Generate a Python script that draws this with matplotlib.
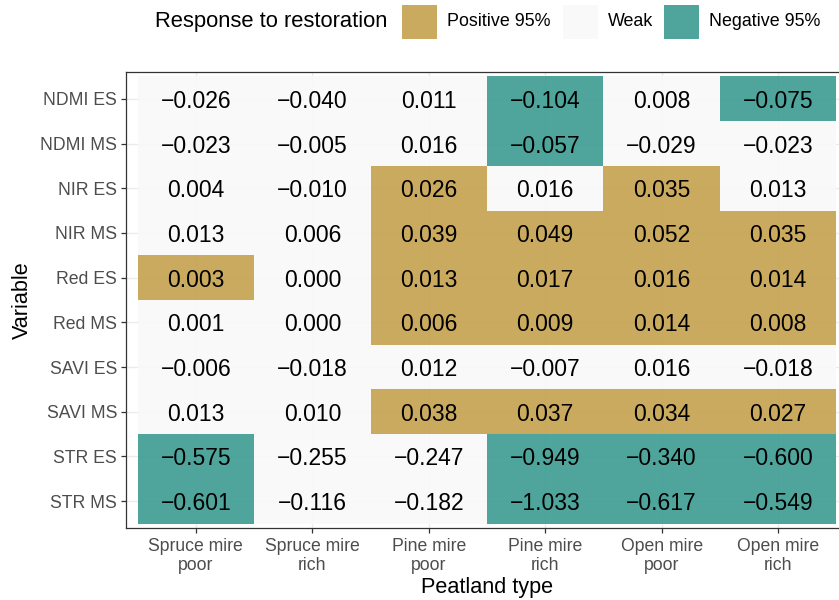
import numpy as np
import matplotlib.pyplot as plt
from matplotlib.patches import Rectangle

plt.rcParams['font.family'] = ['Liberation Sans', 'DejaVu Sans']

peatland = ['Spruce mire\npoor', 'Spruce mire\nrich', 'Pine mire\npoor',
            'Pine mire\nrich', 'Open mire\npoor', 'Open mire\nrich']
variables = ['NDMI ES', 'NDMI MS', 'NIR ES', 'NIR MS', 'Red ES',
             'Red MS', 'SAVI ES', 'SAVI MS', 'STR ES', 'STR MS']

# effect sizes, one row per variable, columns follow peatland
values = np.array([
    [-0.026, -0.040, 0.011, -0.104, 0.008, -0.075],
    [-0.023, -0.005, 0.016, -0.057, -0.029, -0.023],
    [0.004, -0.010, 0.026, 0.016, 0.035, 0.013],
    [0.013, 0.006, 0.039, 0.049, 0.052, 0.035],
    [0.003, 0.000, 0.013, 0.017, 0.016, 0.014],
    [0.001, 0.000, 0.006, 0.009, 0.014, 0.008],
    [-0.006, -0.018, 0.012, -0.007, 0.016, -0.018],
    [0.013, 0.010, 0.038, 0.037, 0.034, 0.027],
    [-0.575, -0.255, -0.247, -0.949, -0.340, -0.600],
    [-0.601, -0.116, -0.182, -1.033, -0.617, -0.549],
])

# P = positive 95%, W = weak, N = negative 95%
response = [
    'WWWNWN',
    'WWWNWW',
    'WWPWPW',
    'WWPPPP',
    'PWPPPP',
    'WWPPPP',
    'WWWWWW',
    'WWPPPP',
    'NWWNNN',
    'NWWNNN',
]

legend_labels = ['Positive 95%', 'Weak', 'Negative 95%']
fills = {'P': '#C39F48', 'W': '#F9F9F9', 'N': '#36998E'}

W, H = 839, 600
fig = plt.figure(figsize=(W / 100, H / 100), dpi=100)
ax = fig.add_axes([126 / W, 72 / H, 722 / W, 456 / H])

cols = np.arange(1, len(peatland) + 1)
for i, var in enumerate(variables):
    row = i + 1
    colors = [fills[c] for c in response[i]]
    ax.barh(np.full(len(cols), row), 1.0, left=cols - 0.5, height=1.0,
            color=colors, alpha=0.88, linewidth=0, zorder=2)
    for j, v in enumerate(values[i]):
        txt = f'{v:.3f}'.replace('-', '\u2212')
        ax.text(cols[j], row, txt, ha='center', va='center_baseline',
                fontsize=16.5, color='black', zorder=3)

ax.set_xlim(0.4, len(peatland) + 0.6)
ax.set_ylim(len(variables) + 0.6, 0.4)
ax.set_xticks(cols)
ax.set_xticklabels(peatland, linespacing=1.15)
ax.set_yticks(np.arange(1, len(variables) + 1))
ax.set_yticklabels(variables)

ax.grid(True, color='#EBEBEB', linewidth=1.0, zorder=1)
ax.set_axisbelow(True)
for s in ax.spines.values():
    s.set_color('#333333')
    s.set_linewidth(0.9)

ax.tick_params(length=3.5, width=0.9, color='#333333', labelcolor='#4D4D4D',
               labelsize=12.7)
ax.tick_params(axis='x', pad=4)
ax.tick_params(axis='y', pad=3)
ax.set_xlabel('Peatland type', fontsize=15.6, labelpad=2)
ax.set_ylabel('Variable', fontsize=15.6, labelpad=5)

# legend across the top
fig.text(155 / W, 1 - 22 / H, 'Response to restoration', fontsize=15.8,
         ha='left', va='center')
key_x = [402, 563, 664]
for kx, lab, code in zip(key_x, legend_labels, ['P', 'W', 'N']):
    fig.add_artist(Rectangle((kx / W, 1 - 39 / H), 35 / W, 34 / H,
                             transform=fig.transFigure, facecolor=fills[code],
                             alpha=0.88, linewidth=0))
    fig.text((kx + 45) / W, 1 - 22 / H, lab, fontsize=12.9, ha='left',
             va='center')

fig.savefig('out.png', dpi=100)
